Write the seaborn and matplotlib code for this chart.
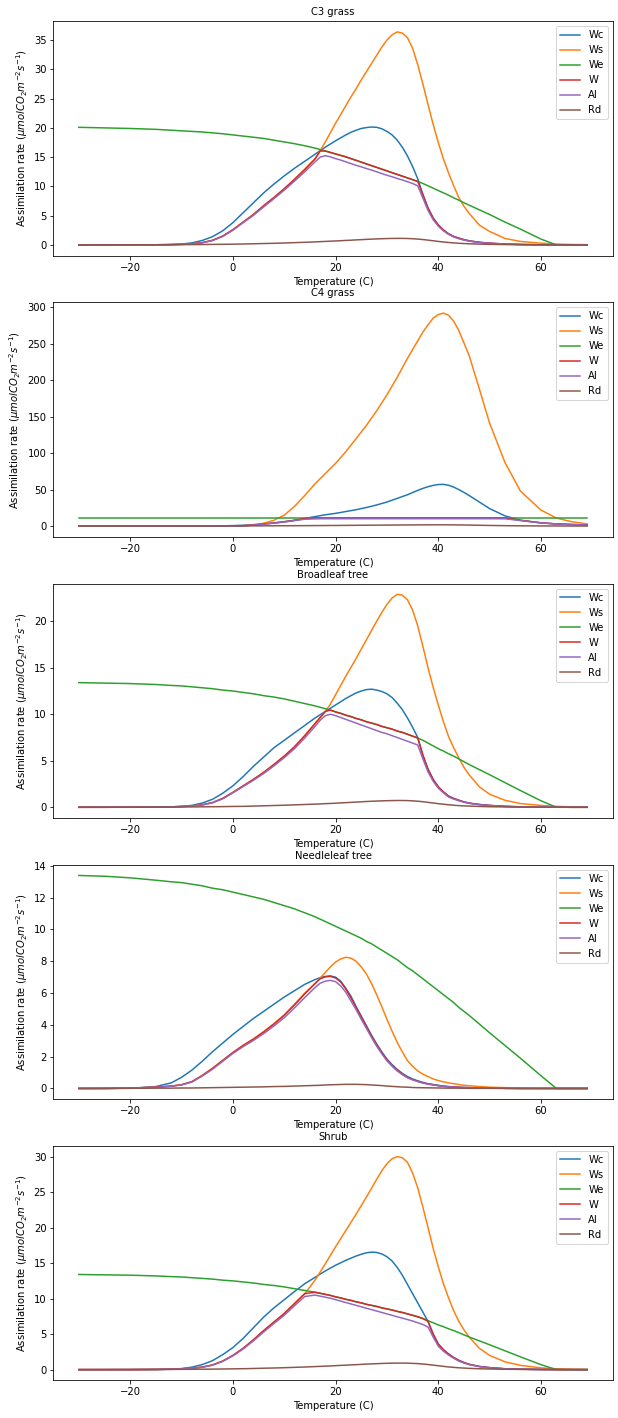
import matplotlib
matplotlib.use("Agg")
import matplotlib.pyplot as plt
import seaborn as sns

# Temperature grid (C)
T = [-30, -25, -20, -15, -12, -10, -8, -6, -4, -2, 0, 2, 4, 6, 8, 10, 12, 14,
     16, 17, 18, 19, 20, 21, 22, 23, 24, 25, 26, 27, 28, 29, 30, 31, 32, 33, 34, 35, 36, 37, 38, 39, 40, 41, 42, 43, 44, 45, 46,
     48, 50, 53, 56, 60, 63, 66, 69]

series_names = ["Wc", "Ws", "We", "W", "Al", "Rd"]

# ---- C3 grass ----
c3_wc = [0, 0, 0, 0.01, 0.05, 0.15, 0.35, 0.75, 1.4, 2.4, 3.8, 5.5, 7.2, 8.9, 10.4, 11.8, 13.1, 14.3,
         15.5, 16.1, 16.7, 17.25, 17.8, 18.3, 18.8, 19.25, 19.6, 19.9, 20.05, 20.15, 20.1, 19.85, 19.4, 18.8, 17.9, 16.7, 15.2, 13.4, 11.3, 8.6, 6.3, 4.6, 3.4, 2.55, 1.9, 1.45, 1.15, 0.9, 0.7,
         0.45, 0.3, 0.15, 0.08, 0.03, 0.01, 0, 0]
c3_ws = [0, 0, 0.01, 0.03, 0.06, 0.1, 0.18, 0.38, 0.78, 1.5, 2.6, 3.9, 5.2, 6.7, 8.1, 9.6, 11.2, 12.9,
         14.7, 16.1, 17.6, 19.2, 20.8, 22.3, 23.8, 25.3, 26.7, 28.2, 29.6, 31.0, 32.4, 33.8, 35.0, 35.9, 36.4, 36.2, 35.4, 33.6, 30.8, 27.5, 24.0, 20.6, 17.5, 14.7, 12.3, 10.1, 8.1, 6.6, 5.4,
         3.4, 2.3, 1.1, 0.6, 0.3, 0.15, 0.08, 0.05]
c3_we = [20.1, 20.0, 19.9, 19.75, 19.6, 19.5, 19.4, 19.3, 19.15, 19.0, 18.8, 18.6, 18.4, 18.2, 17.9, 17.6, 17.3, 16.95,
         16.55, 16.3, 16.05, 15.8, 15.55, 15.3, 15.05, 14.75, 14.45, 14.15, 13.85, 13.55, 13.25, 12.95, 12.65, 12.35, 12.05, 11.75, 11.45, 11.15, 10.85, 10.5, 10.1, 9.7, 9.3, 8.9, 8.5, 8.05, 7.65, 7.2, 6.8,
         6.0, 5.2, 3.9, 2.7, 1.0, 0, 0, 0]
c3_w = [0, 0, 0.01, 0.03, 0.06, 0.1, 0.18, 0.38, 0.78, 1.5, 2.6, 3.9, 5.2, 6.7, 8.1, 9.6, 11.2, 12.9,
        14.7, 16.05, 16.05, 15.8, 15.55, 15.3, 15.05, 14.75, 14.45, 14.15, 13.85, 13.55, 13.25, 12.95, 12.65, 12.35, 12.05, 11.75, 11.45, 11.15, 10.85, 8.6, 6.3, 4.6, 3.4, 2.55, 1.9, 1.45, 1.15, 0.9, 0.7,
        0.45, 0.3, 0.15, 0.08, 0.03, 0.01, 0, 0]
c3_al = [0, 0, 0.01, 0.03, 0.06, 0.1, 0.17, 0.36, 0.74, 1.43, 2.5, 3.8, 5.05, 6.5, 7.9, 9.35, 10.9, 12.5,
         14.2, 15.0, 15.25, 15.05, 14.75, 14.5, 14.2, 13.9, 13.6, 13.35, 13.05, 12.8, 12.5, 12.2, 11.9, 11.65, 11.35, 11.1, 10.8, 10.5, 10.1, 8.0, 5.9, 4.3, 3.2, 2.4, 1.8, 1.35, 1.05, 0.82, 0.65,
         0.4, 0.27, 0.13, 0.07, 0.02, 0.01, 0, 0]
c3_rd = [0, 0.01, 0.02, 0.03, 0.04, 0.05, 0.06, 0.07, 0.09, 0.11, 0.13, 0.16, 0.2, 0.24, 0.28, 0.33, 0.39, 0.45,
         0.52, 0.56, 0.6, 0.64, 0.68, 0.72, 0.77, 0.81, 0.86, 0.9, 0.95, 0.99, 1.03, 1.06, 1.09, 1.11, 1.12, 1.12, 1.1, 1.06, 1.0, 0.92, 0.82, 0.71, 0.6, 0.5, 0.42, 0.35, 0.28, 0.24, 0.2,
         0.14, 0.1, 0.06, 0.04, 0.02, 0.01, 0.01, 0]

# ---- C4 grass ----
c4_wc = [0, 0, 0, 0, 0, 0, 0, 0.1, 0.2, 0.4, 0.7, 1.2, 2.0, 3.0, 4.3, 6.0, 8.0, 10.5,
         13.0, 14.3, 15.5, 16.5, 17.5, 18.7, 20.0, 21.2, 22.5, 24.0, 25.5, 27.2, 29.0, 31.0, 33.0, 35.5, 38.0, 40.5, 43.0, 46.0, 49.0, 51.7, 54.0, 55.8, 57.0, 57.2, 56.0, 53.5, 50.0, 46.2, 42.0,
         33.0, 24.0, 14.0, 8.0, 4.5, 3.0, 2.2, 1.6]
c4_ws = [0, 0, 0, 0, 0, 0, 0, 0, 0, 0, 0.1, 0.5, 1.5, 4.0, 8.0, 15.0, 27.0, 42.0,
         58.0, 65.0, 72.0, 79.0, 86.0, 94.0, 102.0, 111.0, 120.0, 129.0, 138.0, 148.0, 158.0, 169.0, 180.0, 192.0, 204.0, 217.0, 230.0, 242.0, 254.0, 266.0, 276.0, 285.0, 290.0, 292.0, 289.0, 281.0, 268.0, 251.0, 234.0,
         188.0, 141.0, 87.0, 48.0, 22.0, 11.0, 6.0, 3.0]
c4_we = [11.0, 11.0, 11.0, 11.0, 11.0, 11.0, 11.0, 11.0, 11.0, 11.0, 11.0, 11.0, 11.0, 11.0, 11.0, 11.0, 11.0, 11.0,
         11.0, 11.0, 11.0, 11.0, 11.0, 11.0, 11.0, 11.0, 11.0, 11.0, 11.0, 11.0, 11.0, 11.0, 11.0, 11.0, 11.0, 11.0, 11.0, 11.0, 11.0, 11.0, 11.0, 11.0, 11.0, 11.0, 11.0, 11.0, 11.0, 11.0, 11.0,
         11.0, 11.0, 11.0, 11.0, 11.0, 11.0, 11.0, 11.0]
c4_w = [0, 0, 0, 0, 0, 0, 0, 0, 0, 0, 0, 0.4, 1.4, 2.9, 4.3, 6.0, 8.0, 10.3,
        11.0, 11.0, 11.0, 11.0, 11.0, 11.0, 11.0, 11.0, 11.0, 11.0, 11.0, 11.0, 11.0, 11.0, 11.0, 11.0, 11.0, 11.0, 11.0, 11.0, 11.0, 11.0, 11.0, 11.0, 11.0, 11.0, 11.0, 11.0, 11.0, 11.0, 11.0,
        11.0, 11.0, 11.0, 8.0, 4.5, 3.0, 2.2, 1.6]
c4_al = [0, 0, 0, 0, 0, 0, 0, 0, 0, 0, 0, 0.35, 1.3, 2.7, 4.0, 5.6, 7.5, 9.4,
         9.9, 10.1, 10.1, 10.1, 10.1, 10.1, 10.1, 10.1, 10.1, 10.1, 10.1, 10.1, 10.1, 10.1, 10.1, 10.1, 10.1, 10.1, 10.1, 10.1, 10.1, 10.1, 10.1, 10.1, 10.1, 10.1, 10.1, 10.1, 10.1, 10.1, 10.1,
         10.1, 10.1, 10.0, 7.6, 4.3, 2.9, 2.1, 1.5]
c4_rd = [0.02, 0.03, 0.04, 0.06, 0.08, 0.1, 0.12, 0.14, 0.17, 0.2, 0.24, 0.28, 0.33, 0.38, 0.44, 0.5, 0.57, 0.64,
         0.72, 0.76, 0.8, 0.85, 0.9, 0.95, 1.0, 1.05, 1.1, 1.15, 1.2, 1.25, 1.3, 1.35, 1.4, 1.45, 1.5, 1.55, 1.6, 1.64, 1.68, 1.71, 1.74, 1.76, 1.77, 1.76, 1.73, 1.67, 1.6, 1.5, 1.4,
         1.15, 0.9, 0.6, 0.4, 0.25, 0.18, 0.13, 0.1]

# ---- Broadleaf tree ----
bl_wc = [0, 0, 0, 0.01, 0.04, 0.1, 0.2, 0.45, 0.85, 1.5, 2.3, 3.3, 4.4, 5.4, 6.4, 7.2, 8.0, 8.8,
         9.6, 9.95, 10.3, 10.65, 11.0, 11.35, 11.7, 12.0, 12.3, 12.5, 12.65, 12.7, 12.6, 12.45, 12.2, 11.8, 11.2, 10.5, 9.6, 8.6, 7.5, 5.6, 4.1, 3.0, 2.2, 1.65, 1.2, 0.95, 0.75, 0.58, 0.45,
         0.3, 0.2, 0.1, 0.05, 0.02, 0.01, 0, 0]
bl_ws = [0, 0, 0.01, 0.03, 0.05, 0.08, 0.14, 0.26, 0.5, 0.95, 1.6, 2.3, 3.0, 3.75, 4.6, 5.5, 6.5, 7.7,
         9.0, 9.65, 10.3, 11.1, 12.1, 13.1, 14.1, 15.05, 16.0, 17.0, 18.0, 19.0, 20.0, 20.95, 21.8, 22.5, 22.9, 22.8, 22.3, 21.2, 19.5, 17.3, 15.0, 12.9, 11.0, 9.2, 7.6, 6.4, 5.3, 4.3, 3.5,
         2.2, 1.4, 0.75, 0.4, 0.2, 0.1, 0.05, 0.03]
bl_we = [13.4, 13.35, 13.3, 13.2, 13.1, 13.05, 12.95, 12.85, 12.75, 12.6, 12.5, 12.35, 12.2, 12.0, 11.85, 11.65, 11.4, 11.15,
         10.9, 10.75, 10.6, 10.45, 10.25, 10.1, 9.9, 9.75, 9.55, 9.4, 9.2, 9.05, 8.9, 8.7, 8.55, 8.4, 8.2, 8.05, 7.85, 7.65, 7.45, 7.2, 6.9, 6.6, 6.3, 6.05, 5.75, 5.5, 5.2, 4.9, 4.6,
         4.05, 3.5, 2.65, 1.8, 0.7, 0, 0, 0]
bl_w = [0, 0, 0.01, 0.03, 0.05, 0.08, 0.14, 0.26, 0.5, 0.95, 1.6, 2.3, 3.0, 3.75, 4.6, 5.5, 6.5, 7.7,
        9.0, 9.65, 10.3, 10.45, 10.25, 10.1, 9.9, 9.75, 9.55, 9.4, 9.2, 9.05, 8.9, 8.7, 8.55, 8.4, 8.2, 8.05, 7.85, 7.65, 7.45, 5.6, 4.1, 3.0, 2.2, 1.65, 1.2, 0.95, 0.75, 0.58, 0.45,
        0.3, 0.2, 0.1, 0.05, 0.02, 0.01, 0, 0]
bl_al = [0, 0, 0.01, 0.03, 0.05, 0.08, 0.13, 0.25, 0.48, 0.9, 1.55, 2.23, 2.9, 3.63, 4.45, 5.33, 6.3, 7.45,
         8.7, 9.35, 9.85, 10.0, 9.85, 9.65, 9.45, 9.25, 9.05, 8.85, 8.65, 8.45, 8.25, 8.05, 7.9, 7.7, 7.5, 7.3, 7.1, 6.9, 6.7, 5.2, 3.8, 2.8, 2.05, 1.55, 1.1, 0.88, 0.7, 0.54, 0.42,
         0.28, 0.18, 0.09, 0.04, 0.02, 0.01, 0, 0]
bl_rd = [0, 0.01, 0.01, 0.02, 0.03, 0.03, 0.04, 0.05, 0.06, 0.07, 0.09, 0.1, 0.13, 0.16, 0.19, 0.22, 0.26, 0.3,
         0.34, 0.36, 0.39, 0.41, 0.44, 0.47, 0.5, 0.53, 0.56, 0.59, 0.62, 0.65, 0.67, 0.69, 0.71, 0.72, 0.73, 0.73, 0.72, 0.69, 0.65, 0.6, 0.53, 0.46, 0.39, 0.33, 0.27, 0.22, 0.18, 0.15, 0.13,
         0.09, 0.06, 0.04, 0.03, 0.01, 0.01, 0, 0]

# ---- Needleleaf tree ----
nl_wc = [0, 0, 0.01, 0.12, 0.35, 0.7, 1.15, 1.7, 2.3, 2.85, 3.4, 3.9, 4.4, 4.85, 5.3, 5.75, 6.15, 6.55,
         6.85, 6.97, 7.05, 7.08, 7.0, 6.75, 6.3, 5.8, 5.15, 4.55, 3.95, 3.35, 2.8, 2.3, 1.85, 1.5, 1.2, 0.95, 0.75, 0.6, 0.48, 0.38, 0.3, 0.25, 0.2, 0.15, 0.12, 0.1, 0.08, 0.06, 0.05,
         0.03, 0.02, 0.01, 0, 0, 0, 0, 0]
nl_ws = [0, 0, 0.02, 0.08, 0.15, 0.24, 0.43, 0.82, 1.27, 1.77, 2.27, 2.72, 3.12, 3.58, 4.08, 4.63, 5.3, 6.0,
         6.6, 6.95, 7.3, 7.65, 7.95, 8.15, 8.25, 8.2, 8.0, 7.65, 7.2, 6.6, 5.9, 5.15, 4.35, 3.6, 2.9, 2.3, 1.75, 1.4, 1.1, 0.9, 0.75, 0.6, 0.5, 0.42, 0.35, 0.3, 0.25, 0.2, 0.17,
         0.12, 0.08, 0.05, 0.03, 0.01, 0, 0, 0]
nl_we = [13.4, 13.35, 13.25, 13.1, 13.0, 12.95, 12.85, 12.75, 12.6, 12.5, 12.35, 12.2, 12.05, 11.9, 11.7, 11.5, 11.3, 11.05,
         10.8, 10.65, 10.5, 10.35, 10.2, 10.05, 9.9, 9.75, 9.6, 9.45, 9.25, 9.1, 8.9, 8.7, 8.5, 8.3, 8.1, 7.85, 7.6, 7.4, 7.15, 6.9, 6.65, 6.4, 6.15, 5.9, 5.65, 5.4, 5.1, 4.85, 4.6,
         4.05, 3.5, 2.7, 1.9, 0.8, 0, 0, 0]
nl_w = [0, 0, 0.02, 0.08, 0.15, 0.23, 0.42, 0.8, 1.25, 1.75, 2.25, 2.7, 3.1, 3.55, 4.05, 4.6, 5.25, 5.95,
        6.6, 6.9, 7.02, 7.05, 6.95, 6.7, 6.25, 5.7, 5.1, 4.5, 3.9, 3.3, 2.75, 2.25, 1.8, 1.45, 1.15, 0.9, 0.7, 0.56, 0.45, 0.36, 0.28, 0.23, 0.18, 0.14, 0.11, 0.09, 0.07, 0.06, 0.05,
        0.03, 0.02, 0.01, 0, 0, 0, 0, 0]
nl_al = [0, 0, 0.02, 0.07, 0.14, 0.22, 0.4, 0.77, 1.2, 1.7, 2.2, 2.63, 3.02, 3.45, 3.93, 4.45, 5.07, 5.72,
         6.35, 6.62, 6.75, 6.8, 6.72, 6.45, 6.05, 5.5, 4.95, 4.35, 3.78, 3.2, 2.66, 2.18, 1.74, 1.4, 1.1, 0.87, 0.67, 0.54, 0.43, 0.34, 0.27, 0.22, 0.17, 0.13, 0.1, 0.08, 0.07, 0.05, 0.04,
         0.03, 0.02, 0.01, 0, 0, 0, 0, 0]
nl_rd = [0, 0.01, 0.01, 0.02, 0.02, 0.03, 0.03, 0.04, 0.05, 0.06, 0.07, 0.08, 0.09, 0.1, 0.12, 0.13, 0.15, 0.17,
         0.19, 0.2, 0.22, 0.23, 0.24, 0.25, 0.26, 0.26, 0.26, 0.25, 0.24, 0.22, 0.2, 0.18, 0.15, 0.13, 0.11, 0.09, 0.08, 0.06, 0.05, 0.045, 0.04, 0.035, 0.03, 0.025, 0.02, 0.02, 0.02, 0.015, 0.01,
         0.01, 0.01, 0, 0, 0, 0, 0, 0]

# ---- Shrub ----
sh_wc = [0, 0, 0, 0.01, 0.05, 0.15, 0.35, 0.7, 1.25, 2.1, 3.1, 4.4, 5.9, 7.4, 8.7, 9.85, 11.0, 12.1,
         13.0, 13.45, 13.9, 14.3, 14.7, 15.05, 15.4, 15.7, 16.0, 16.25, 16.45, 16.55, 16.5, 16.3, 15.9, 15.3, 14.4, 13.3, 12.0, 10.7, 9.4, 8.1, 6.8, 5.0, 3.6, 2.8, 2.2, 1.7, 1.3, 1.0, 0.75,
         0.45, 0.28, 0.12, 0.06, 0.02, 0.01, 0, 0]
sh_ws = [0, 0, 0.01, 0.03, 0.07, 0.12, 0.2, 0.35, 0.65, 1.2, 2.0, 3.0, 4.2, 5.5, 6.7, 7.9, 9.3, 10.7,
         12.6, 13.75, 14.9, 16.1, 17.3, 18.45, 19.6, 20.75, 21.9, 23.1, 24.3, 25.55, 26.8, 28.0, 29.0, 29.7, 30.0, 29.85, 29.2, 27.7, 25.6, 22.9, 20.0, 17.1, 14.5, 12.1, 10.1, 8.3, 6.8, 5.6, 4.6,
         3.0, 2.0, 1.1, 0.6, 0.25, 0.12, 0.06, 0.03]
sh_we = [13.4, 13.35, 13.3, 13.2, 13.1, 13.05, 12.95, 12.85, 12.75, 12.6, 12.5, 12.35, 12.2, 12.0, 11.85, 11.65, 11.4, 11.15,
         10.9, 10.75, 10.6, 10.45, 10.25, 10.1, 9.9, 9.75, 9.55, 9.4, 9.2, 9.05, 8.9, 8.7, 8.55, 8.4, 8.2, 8.05, 7.85, 7.65, 7.45, 7.2, 6.9, 6.6, 6.3, 6.05, 5.75, 5.5, 5.2, 4.9, 4.6,
         4.05, 3.5, 2.65, 1.8, 0.7, 0, 0, 0]
sh_w = [0, 0, 0.01, 0.03, 0.07, 0.12, 0.2, 0.35, 0.65, 1.2, 2.0, 3.0, 4.2, 5.5, 6.7, 7.9, 9.3, 10.7,
        10.9, 10.75, 10.6, 10.45, 10.25, 10.1, 9.9, 9.75, 9.55, 9.4, 9.2, 9.05, 8.9, 8.7, 8.55, 8.4, 8.2, 8.05, 7.85, 7.65, 7.45, 7.2, 6.8, 5.0, 3.6, 2.8, 2.2, 1.7, 1.3, 1.0, 0.75,
        0.45, 0.28, 0.12, 0.06, 0.02, 0.01, 0, 0]
sh_al = [0, 0, 0.01, 0.03, 0.06, 0.11, 0.19, 0.33, 0.62, 1.15, 1.93, 2.9, 4.05, 5.3, 6.5, 7.65, 9.0, 10.3,
         10.5, 10.35, 10.2, 10.05, 9.85, 9.65, 9.45, 9.25, 9.05, 8.85, 8.65, 8.45, 8.25, 8.05, 7.85, 7.65, 7.45, 7.25, 7.05, 6.85, 6.6, 6.35, 6.0, 4.6, 3.3, 2.6, 2.05, 1.6, 1.2, 0.92, 0.7,
         0.42, 0.26, 0.11, 0.05, 0.02, 0.01, 0, 0]
sh_rd = [0, 0.01, 0.01, 0.02, 0.03, 0.04, 0.05, 0.06, 0.07, 0.09, 0.11, 0.13, 0.16, 0.2, 0.23, 0.27, 0.32, 0.37,
         0.43, 0.46, 0.49, 0.52, 0.56, 0.6, 0.63, 0.67, 0.7, 0.74, 0.78, 0.81, 0.84, 0.87, 0.89, 0.91, 0.92, 0.92, 0.91, 0.88, 0.85, 0.79, 0.72, 0.63, 0.55, 0.46, 0.38, 0.32, 0.26, 0.22, 0.18,
         0.12, 0.09, 0.05, 0.03, 0.02, 0.01, 0.01, 0]

panel_titles = ["C3 grass", "C4 grass", "Broadleaf tree", "Needleleaf tree", "Shrub"]
panel_data = [
    [c3_wc, c3_ws, c3_we, c3_w, c3_al, c3_rd],
    [c4_wc, c4_ws, c4_we, c4_w, c4_al, c4_rd],
    [bl_wc, bl_ws, bl_we, bl_w, bl_al, bl_rd],
    [nl_wc, nl_ws, nl_we, nl_w, nl_al, nl_rd],
    [sh_wc, sh_ws, sh_we, sh_w, sh_al, sh_rd],
]

for group in panel_data:
    for s in group:
        assert len(s) == len(T), (len(s), len(T))

colors = sns.color_palette("tab10", 6)

fig, axes = plt.subplots(5, 1, figsize=(618 / 72, 1418 / 72), dpi=72)
fig.subplots_adjust(left=0.0864, right=0.9913, top=0.985, bottom=0.0266, hspace=0.2)

for ax, title, series in zip(axes, panel_titles, panel_data):
    for name, vals, col in zip(series_names, series, colors):
        sns.lineplot(x=T, y=vals, ax=ax, color=col, label=name, linewidth=1.5)
    ax.set_title(title, fontsize=10)
    ax.set_xlabel("Temperature (C)", fontsize=10)
    ax.set_ylabel("Assimilation rate ($\\mu mol CO_2 m^{-2} s^{-1}$)", fontsize=10)
    ax.tick_params(labelsize=10)
    ax.legend(loc="upper right", fontsize=10)

fig.savefig("out.png", dpi=72)
